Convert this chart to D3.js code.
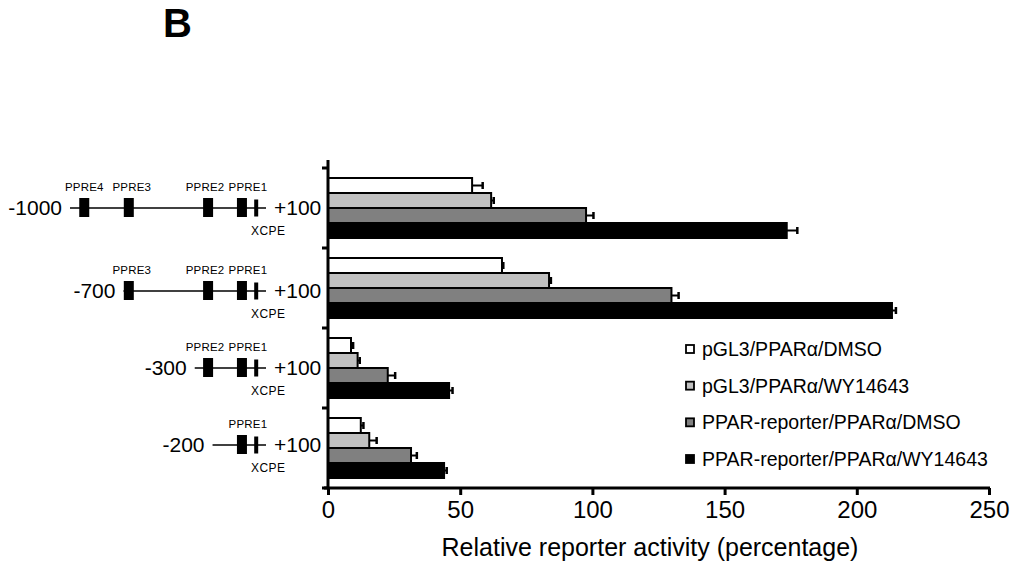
<!DOCTYPE html>
<html><head><meta charset="utf-8">
<script src="https://cdn.jsdelivr.net/npm/d3@7"></script>
<style>body{margin:0;background:#fff}text{font-family:"Liberation Sans",Arial,sans-serif;fill:#000}</style>
</head><body><svg id="c" width="1019" height="570"></svg>
<script>
// ---- data ----
const constructs = ["-1000", "-700", "-300", "-200"];
const constructStart = [-1000, -700, -300, -200];
const constructEnd = 100;
const seriesNames = ["pGL3/PPARα/DMSO", "pGL3/PPARα/WY14643", "PPAR-reporter/PPARα/DMSO", "PPAR-reporter/PPARα/WY14643"];
const seriesColors = ["#ffffff", "#c0c0c0", "#808080", "#000000"];
// values per construct for each series
const vDMSO_pGL3 = [54.5, 65.8, 8.7, 12.4];
const vWY_pGL3 = [61.7, 83.6, 11.2, 15.6];
const vDMSO_rep = [97.6, 129.9, 22.6, 31.4];
const vWY_rep = [173.5, 213.3, 45.8, 43.9];
const eDMSO_pGL3 = [4, 0.5, 0.8, 1];
const eWY_pGL3 = [1, 0.7, 0.8, 2.8];
const eDMSO_rep = [2.8, 2.7, 2.8, 2.2];
const eWY_rep = [4, 1.5, 1.3, 1];
const xTicks = [0, 50, 100, 150, 200, 250];
// promoter elements: name, position (bp)
const elemNames = ["PPRE4", "PPRE3", "PPRE2", "PPRE1", "XCPE"];
const elemPos = [-920, -670, -225, -35, 45];

const values = [vDMSO_pGL3, vWY_pGL3, vDMSO_rep, vWY_rep];
const errors = [eDMSO_pGL3, eWY_pGL3, eDMSO_rep, eWY_rep];

const svg = d3.select("#c");
const x = d3.scaleLinear().domain([0, 250]).range([328, 989]);
const y = d3.scaleBand().domain(constructs).range([168, 488]).paddingInner(0);
const ySub = d3.scaleBand().domain(d3.range(4)).range([10, 70]);

// title
svg.append("text").attr("x", 163).attr("y", 37).attr("font-size", 40).attr("font-weight", "bold").text("B");

// bars
constructs.forEach((c, gi) => {
  const g = svg.append("g").attr("transform", `translate(0,${y(c)})`);
  values.forEach((vals, si) => {
    const v = vals[gi], e = errors[si][gi];
    const yy = ySub(si), h = ySub.bandwidth();
    g.append("rect").attr("x", x(0)).attr("y", yy).attr("width", x(v) - x(0)).attr("height", h)
      .attr("fill", seriesColors[si]).attr("stroke", "#000").attr("stroke-width", 2);
    g.append("line").attr("x1", x(v)).attr("x2", x(v + e)).attr("y1", yy + h / 2).attr("y2", yy + h / 2)
      .attr("stroke", "#000").attr("stroke-width", 2);
    g.append("line").attr("x1", x(v + e)).attr("x2", x(v + e)).attr("y1", yy + h / 2 - 3.5).attr("y2", yy + h / 2 + 3.5)
      .attr("stroke", "#000").attr("stroke-width", 2.5);
  });
});

// y axis
svg.append("line").attr("x1", x(0)).attr("x2", x(0)).attr("y1", 160).attr("y2", 489).attr("stroke", "#000").attr("stroke-width", 3);
const bounds = constructs.map(c => y(c)).concat([y.range()[1]]);
bounds.forEach(b => svg.append("line").attr("x1", x(0) - 6).attr("x2", x(0)).attr("y1", b).attr("y2", b).attr("stroke", "#000").attr("stroke-width", 3));

// x axis
const xa = svg.append("g").attr("transform", "translate(0,488)")
  .call(d3.axisBottom(x).tickValues(xTicks).tickSize(7).tickPadding(6).tickFormat(d3.format("d")));
xa.select(".domain").attr("stroke-width", 3).attr("d", `M${x(0) - 4},0H${x(250) + 1}`);
xa.selectAll(".tick line").attr("stroke-width", 3);
xa.selectAll(".tick text").attr("font-size", 24).attr("font-family", "Liberation Sans, Arial, sans-serif").attr("fill", "#000");
svg.append("text").attr("x", 650).attr("y", 556).attr("text-anchor", "middle").attr("font-size", 25)
  .text("Relative reporter activity (percentage)");

// promoter schematics
const s = d3.scaleLinear().domain([-1000, 100]).range([70, 266]);
const labelShift = {PPRE4: 0, PPRE3: 3, PPRE2: -3, PPRE1: 6, XCPE: 12};
constructs.forEach((c, gi) => {
  const cy = y(c) + y.bandwidth() / 2 + (gi === 1 ? 3 : 0) - (gi === 3 ? 3 : 0);
  const st = constructStart[gi];
  svg.append("line").attr("x1", s(st)).attr("x2", s(constructEnd)).attr("y1", cy).attr("y2", cy).attr("stroke", "#000").attr("stroke-width", 1.3);
  svg.append("text").attr("x", s(st) - 8).attr("y", cy + 7).attr("text-anchor", "end").attr("font-size", 21).text(c);
  svg.append("text").attr("x", s(constructEnd) + 8).attr("y", cy + 7).attr("font-size", 21).text("+100");
  elemNames.forEach((n, ei) => {
    const p = elemPos[ei];
    if (p < st) return;
    if (n === "XCPE") {
      svg.append("rect").attr("x", s(p) - 2).attr("y", cy - 8.5).attr("width", 4).attr("height", 17).attr("fill", "#000");
      svg.append("text").attr("x", s(p) + labelShift[n]).attr("y", cy + 27).attr("text-anchor", "middle").attr("font-size", 12)
        .attr("letter-spacing", 0.4).attr("fill", "#222").text(n);
    } else {
      svg.append("text").attr("x", s(p) + labelShift[n]).attr("y", cy - 17).attr("text-anchor", "middle").attr("font-size", 11.5)
        .attr("letter-spacing", 0.2).attr("fill", "#222").text(n);
      svg.append("rect").attr("x", s(p) - 5).attr("y", cy - 10).attr("width", 10).attr("height", 19).attr("fill", "#000");
    }
  });
});

// legend
const leg = d3.scaleLinear().domain([0, 3]).range([349, 459]);
seriesNames.forEach((n, i) => {
  svg.append("rect").attr("x", 686).attr("y", leg(i) - 4).attr("width", 8).attr("height", 8)
    .attr("fill", seriesColors[i]).attr("stroke", "#000").attr("stroke-width", 1.8);
  svg.append("text").attr("x", 702).attr("y", leg(i) + 7).attr("font-size", 19.5).text(n);
});
</script></body></html>
